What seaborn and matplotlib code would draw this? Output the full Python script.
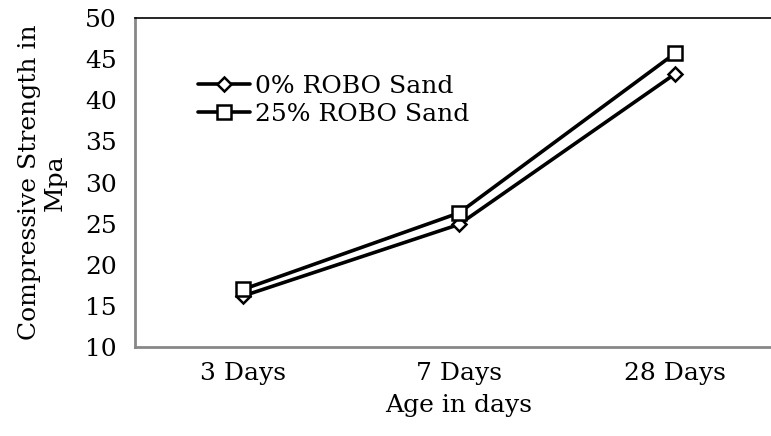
import matplotlib
matplotlib.use("Agg")
import matplotlib.pyplot as plt
import seaborn as sns
import pandas as pd

ages = ["3 Days", "7 Days", "28 Days"]
series_names = ["0% ROBO Sand", "25% ROBO Sand"]
strength_0 = [16.2, 24.9, 43.2]
strength_25 = [17.0, 26.3, 45.7]
y_ticks = [10, 15, 20, 25, 30, 35, 40, 45, 50]

df = pd.DataFrame({
    "age": ages * 2,
    "x": list(range(len(ages))) * 2,
    "strength": strength_0 + strength_25,
    "series": [series_names[0]] * 3 + [series_names[1]] * 3,
})

sns.set_theme(style="white")
plt.rcParams["font.family"] = ["DejaVu Serif"]
plt.rcParams["text.color"] = "black"
plt.rcParams["axes.labelcolor"] = "black"
plt.rcParams["xtick.color"] = "black"
plt.rcParams["ytick.color"] = "black"

FS = 18

fig = plt.figure(figsize=(7.71, 4.36), dpi=100)
ax = fig.add_axes([135 / 771, 1 - 347 / 436, 648 / 771, 329 / 436])

sns.lineplot(
    data=df, x="x", y="strength", hue="series", style="series",
    palette=["black", "black"], markers={series_names[0]: "D", series_names[1]: "s"},
    dashes=False, linewidth=2.6, ax=ax, legend=False,
)
for line, ms in zip(ax.lines, [7, 9.5]):
    line.set_markersize(ms)
    line.set_markerfacecolor("white")
    line.set_markeredgecolor("black")
    line.set_markeredgewidth(1.8)

ax.set_xlim(-0.5, 2.5)
ax.set_ylim(10, 50)
ax.set_yticks(y_ticks)
ax.set_yticklabels([str(v) for v in y_ticks], fontsize=FS)
ax.set_xticks([-0.5, 0.5, 1.5, 2.5])
ax.set_xticklabels([])
ax.set_xticks(range(len(ages)), minor=True)
ax.set_xticklabels(ages, minor=True, fontsize=FS)
ax.tick_params(axis="x", which="minor", length=0, pad=11)
ax.tick_params(axis="x", which="major", length=5, width=1.5, color="#888888", direction="out")
ax.tick_params(axis="y", length=5, width=1.5, color="#888888", direction="out", pad=8)

for side in ["left", "bottom"]:
    ax.spines[side].set_color("#888888")
    ax.spines[side].set_linewidth(2)
ax.spines["top"].set_color("black")
ax.spines["top"].set_linewidth(1.2)
ax.spines["right"].set_visible(False)

ax.set_xlabel("Age in days", fontsize=FS, labelpad=6)
ax.set_ylabel("Compressive Strength in\nMpa", fontsize=FS, linespacing=1.15)
ax.yaxis.label.set_va("center")
ax.yaxis.set_label_coords(-0.1435, 0.5)

handles = [
    plt.Line2D([], [], color="black", lw=2.6, marker="D", ms=7, mfc="white", mew=1.8),
    plt.Line2D([], [], color="black", lw=2.6, marker="s", ms=9.5, mfc="white", mew=1.8),
]
ax.legend(handles, series_names, loc="upper left", bbox_to_anchor=(0.097, 0.827),
          frameon=False, fontsize=FS, handlelength=2.1, handletextpad=0.2,
          labelspacing=0.2, borderaxespad=0, borderpad=0)

fig.savefig("out.png", dpi=100)
